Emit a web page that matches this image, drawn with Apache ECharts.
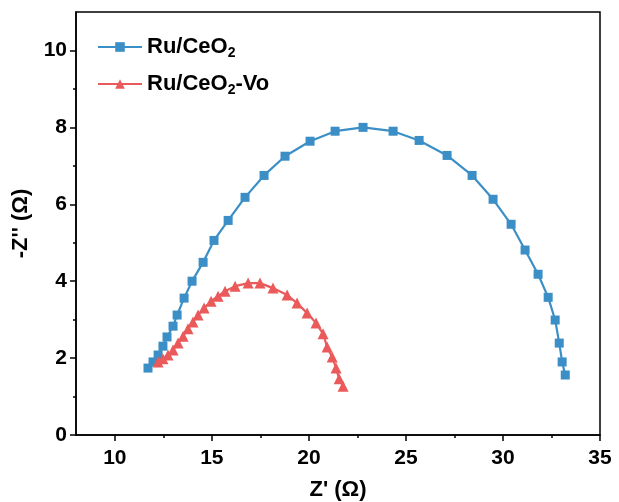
<!DOCTYPE html>
<html>
<head>
<meta charset="utf-8">
<script src="https://cdn.jsdelivr.net/npm/echarts@6/dist/echarts.min.js"></script>
<style>
  html, body { margin: 0; padding: 0; background: #fff; }
  #chart { width: 619px; height: 502px; }
</style>
</head>
<body>
<div id="chart"></div>
<script>
// Ru/CeO2 阻抗数据 (Z', -Z'')
const ruCeO2X = [11.71, 11.97, 12.23, 12.48, 12.69, 13.0, 13.21, 13.57, 13.98, 14.55, 15.11, 15.84, 16.71, 17.69, 18.77, 20.06, 21.35, 22.79, 24.34, 25.68, 27.12, 28.41, 29.49, 30.42, 31.14, 31.81, 32.33, 32.69, 32.9, 33.05, 33.21]
const ruCeO2Y = [1.74, 1.9, 2.08, 2.31, 2.55, 2.83, 3.12, 3.56, 4.0, 4.49, 5.06, 5.58, 6.18, 6.75, 7.25, 7.64, 7.9, 8.0, 7.9, 7.66, 7.27, 6.75, 6.13, 5.48, 4.81, 4.18, 3.58, 2.99, 2.39, 1.9, 1.56]

// Ru/CeO2-Vo 阻抗数据
const ruVoX = [12.23, 12.48, 12.74, 13.0, 13.26, 13.52, 13.77, 14.03, 14.29, 14.6, 14.96, 15.32, 15.68, 16.2, 16.87, 17.48, 18.15, 18.88, 19.39, 19.91, 20.37, 20.73, 20.94, 21.2, 21.4, 21.56, 21.76]
const ruVoY = [1.9, 1.98, 2.08, 2.21, 2.39, 2.57, 2.76, 2.94, 3.12, 3.3, 3.48, 3.61, 3.74, 3.87, 3.95, 3.95, 3.82, 3.64, 3.43, 3.17, 2.91, 2.63, 2.29, 2.03, 1.74, 1.46, 1.27]

// 刻度
const xMajorTicks = [10, 15, 20, 25, 30, 35]
const xMinorTicks = [12.5, 17.5, 22.5, 27.5, 32.5]
const yMajorTicks = [0, 2, 4, 6, 8, 10]
const yMinorTicks = [1, 3, 5, 7, 9]

const seriesNames = ['Ru/CeO2', 'Ru/CeO2-Vo']

const zip = (xs, ys) => xs.map((x, i) => [x, ys[i]])

const font = 'Liberation Sans, Arial, sans-serif'
const chart = echarts.init(document.getElementById('chart'))

const tickStyle = { color: '#000', width: 1.5 }
const labelStyle = (values, margin) => ({
  color: '#000', fontSize: 21, fontWeight: 'bold', fontFamily: font, margin: margin, customValues: values
})
const nameStyle = { color: '#000', fontSize: 22, fontWeight: 'bold', fontFamily: font }

const option = {
  backgroundColor: '#fff',
  animation: false,
  grid: {
    left: 76, right: 19, top: 12, bottom: 67,
    outerBoundsMode: 'none',
    show: true, borderColor: '#000', borderWidth: 1.5
  },
  legend: {
    orient: 'vertical',
    left: 92,
    top: 31,
    itemWidth: 44,
    itemHeight: 12,
    itemGap: 13,
    data: seriesNames,
    formatter: (name) => name === 'Ru/CeO2' ? '{a|Ru/CeO}{s|2}' : '{a|Ru/CeO}{s|2}{a|-Vo}',
    textStyle: {
      rich: {
        a: { fontSize: 22, fontWeight: 'bold', color: '#000', fontFamily: font, lineHeight: 26 },
        s: { fontSize: 14, fontWeight: 'bold', color: '#000', fontFamily: font, lineHeight: 10, verticalAlign: 'bottom' }
      }
    }
  },
  xAxis: [
    {
      type: 'value', min: 8, max: 35,
      name: "Z' (Ω)", nameLocation: 'middle', nameGap: 44, nameTextStyle: nameStyle,
      axisLine: { onZero: false, lineStyle: tickStyle },
      axisTick: { length: 6, customValues: xMajorTicks, lineStyle: tickStyle },
      axisLabel: labelStyle(xMajorTicks, 13),
      splitLine: { show: false }
    },
    {
      // 次刻度
      type: 'value', min: 8, max: 35, position: 'bottom',
      axisLine: { show: false }, axisLabel: { show: false }, splitLine: { show: false },
      axisTick: { show: true, length: 3, customValues: xMinorTicks, lineStyle: tickStyle }
    }
  ],
  yAxis: [
    {
      type: 'value', min: 0, max: 11,
      name: "-Z'' (Ω)", nameLocation: 'middle', nameGap: 44, nameTextStyle: nameStyle,
      axisLine: { show: true, onZero: false, lineStyle: tickStyle },
      axisTick: { show: true, length: 6, customValues: yMajorTicks, lineStyle: tickStyle },
      axisLabel: labelStyle(yMajorTicks, 9),
      splitLine: { show: false }
    },
    {
      type: 'value', min: 0, max: 11, position: 'left',
      axisLine: { show: false }, axisLabel: { show: false }, splitLine: { show: false },
      axisTick: { show: true, length: 3, customValues: yMinorTicks, lineStyle: tickStyle }
    }
  ],
  series: [
    {
      name: seriesNames[0],
      type: 'line',
      data: zip(ruCeO2X, ruCeO2Y),
      symbol: 'rect',
      symbolSize: 9,
      color: '#3b8fc6',
      lineStyle: { width: 2.2 }
    },
    {
      name: seriesNames[1],
      type: 'line',
      data: zip(ruVoX, ruVoY),
      symbol: 'triangle',
      symbolSize: 11,
      color: '#ea5a5a',
      lineStyle: { width: 2.2 }
    }
  ]
}

chart.setOption(option)
</script>
</body>
</html>
